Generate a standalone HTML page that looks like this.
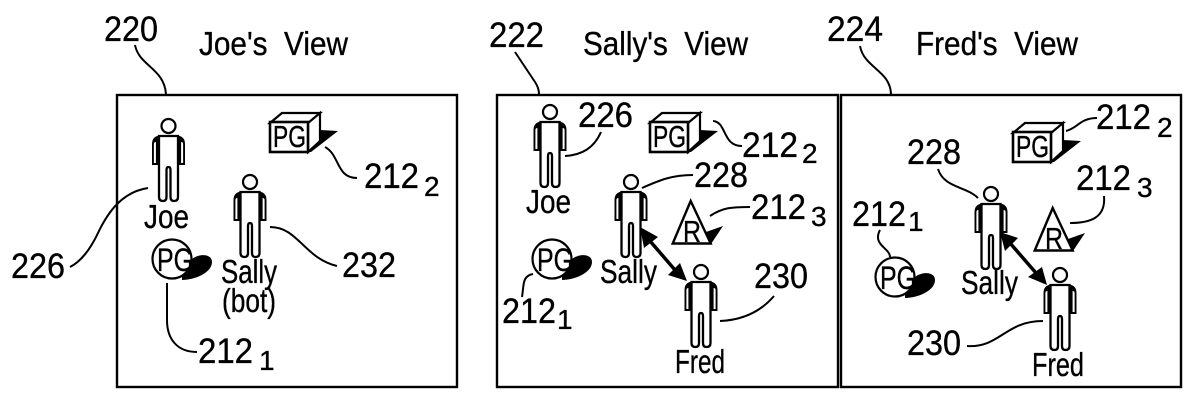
<!DOCTYPE html>
<html><head><meta charset="utf-8"><style>
html,body{margin:0;padding:0;background:#fff}
svg{display:block}
text{font-family:"Liberation Sans",sans-serif;fill:#000;stroke:#000;stroke-width:.35;white-space:pre}
.n{font-size:35px}.t{font-size:33px}.l{font-size:33px}.p{font-size:31px}.s{font-size:32px}.u{font-size:28px}
.w{fill:none;stroke:#000;stroke-width:2}
</style></head><body>
<svg width="1200" height="406" viewBox="0 0 1200 406" xmlns="http://www.w3.org/2000/svg">
<defs>
<g id="person">
<circle cx="0" cy="0" r="7" fill="#fff" stroke="#000" stroke-width="2.2"/>
<path d="M-9 9.5 Q-16.5 10.5 -16.5 18 V39 H-9Z M9 9.5 Q16.5 10.5 16.5 18 V39 H9Z" fill="#000"/>
<path d="M-14.6 18 V37 H-12.6 V16 Q-14.6 16 -14.6 18Z M14.6 18 V37 H12.6 V16 Q14.6 16 14.6 18Z" fill="#fff"/>
<path d="M-9.5 10 H9.5 V71 Q9.5 75 5.5 75 Q2 75 2 71 V44 Q2 41 0 41 Q-2 41 -2 44 V71 Q-2 75 -5.5 75 Q-9.5 75 -9.5 71Z" fill="#fff" stroke="#000" stroke-width="2.3"/>
</g>
<g id="box">
<path d="M51 18 L69 19 L42 40 H36 V18Z" fill="#000"/>
<path d="M1 11 L13 1 H51 L39 11Z M39 11 L51 1 V29 L39 40Z" fill="#fff" stroke="#000" stroke-width="2.2"/>
<rect x="1" y="10" width="38" height="30" fill="#fff" stroke="#000" stroke-width="2.6"/>
<text x="4" y="35" class="p" textLength="33" lengthAdjust="spacingAndGlyphs">PG</text>
</g>
<g id="ball">
<path d="M30 41 C42 41 60 34 60 23 C60 15 48 14 40 20 L30 30Z" fill="#000"/>
<circle cx="20" cy="20" r="19.5" fill="#fff" stroke="#000" stroke-width="2.2"/>
<text x="5" y="32" class="s" textLength="36" lengthAdjust="spacingAndGlyphs">PG</text>
</g>
<g id="tri">
<path d="M34 32 L51 26 L39 44 L31 44Z" fill="#000"/>
<path d="M18.7 1 L38.7 43.5 H0.7Z" fill="#fff" stroke="#000" stroke-width="2.4"/>
<text x="11" y="42" font-size="31" textLength="18" lengthAdjust="spacingAndGlyphs">R</text>
</g>
</defs>
<rect width="1200" height="406" fill="#fff"/>

<rect x="117" y="95" width="340" height="292" fill="none" stroke="#000" stroke-width="2.4"/>
<rect x="497" y="95" width="341" height="292" fill="none" stroke="#000" stroke-width="2.4"/>
<rect x="841" y="95" width="340" height="292" fill="none" stroke="#000" stroke-width="2.4"/>

<text x="104" y="41" class="n" textLength="54" lengthAdjust="spacingAndGlyphs">220</text>
<text x="199" y="55" class="t" textLength="149" lengthAdjust="spacingAndGlyphs">Joe's  View</text>
<text x="489" y="47" class="n" textLength="55" lengthAdjust="spacingAndGlyphs">222</text>
<text x="583" y="55" class="t" textLength="165" lengthAdjust="spacingAndGlyphs">Sally's  View</text>
<text x="827" y="41" class="n" textLength="56" lengthAdjust="spacingAndGlyphs">224</text>
<text x="916" y="55" class="t" textLength="162" lengthAdjust="spacingAndGlyphs">Fred's  View</text>

<path class="w" d="M135 45 C139 66 164 68 166 94"/>
<path class="w" d="M515 52 L535 82 Q539 88 539 94"/>
<path class="w" d="M860 46 C864 68 890 70 891 94"/>

<!-- Joe's view -->
<use href="#person" x="168.5" y="126"/>
<use href="#person" x="250" y="182"/>
<text x="144" y="228" class="l" textLength="45" lengthAdjust="spacingAndGlyphs">Joe</text>
<text x="221" y="283" class="l" textLength="56" lengthAdjust="spacingAndGlyphs">Sally</text>
<text x="222" y="312" class="l" textLength="54" lengthAdjust="spacingAndGlyphs">(bot)</text>
<use href="#box" x="269" y="112"/>
<use href="#ball" x="152" y="239"/>
<path class="w" d="M148 188 C122 192 108 212 98 233 C90 250 80 262 70 267"/>
<path class="w" d="M270 227 C298 227 304 258 337 266"/>
<path class="w" d="M325 147 C340 155 336 178 357 178"/>
<path class="w" d="M167 283 V320 C167 340 178 352 197 352"/>
<text x="11" y="278" class="n" textLength="54" lengthAdjust="spacingAndGlyphs">226</text>
<text x="342" y="277" class="n" textLength="54" lengthAdjust="spacingAndGlyphs">232</text>
<text x="364" y="188" class="n" textLength="55" lengthAdjust="spacingAndGlyphs">212</text>
<text x="424" y="196" class="u">2</text>
<text x="198" y="363" class="n" textLength="55" lengthAdjust="spacingAndGlyphs">212</text>
<text x="259" y="370" class="u">1</text>

<!-- Sally's view -->
<use href="#person" x="550" y="112"/>
<use href="#person" x="631" y="182"/>
<use href="#person" x="701" y="272"/>
<text x="526" y="213" class="l" textLength="45" lengthAdjust="spacingAndGlyphs">Joe</text>
<text x="600" y="283" class="l" textLength="57" lengthAdjust="spacingAndGlyphs">Sally</text>
<text x="675" y="373" class="l" textLength="50" lengthAdjust="spacingAndGlyphs">Fred</text>
<use href="#box" x="649" y="112"/>
<use href="#tri" x="672" y="200"/>
<use href="#ball" x="532" y="239"/>
<path d="M640 227 L658 237 L644 248Z M687 281 L668 275 L680 263Z" fill="#000"/>
<path d="M650 241 L675 270" stroke="#000" stroke-width="3.5" fill="none"/>
<path class="w" d="M565 156 C582 155 594 148 601 132"/>
<path class="w" d="M642 188 C660 180 672 175 693 175"/>
<path class="w" d="M710 216 C722 208 730 207 750 207"/>
<path class="w" d="M713 121 C727 122 722 146 742 146"/>
<path class="w" d="M533 274 C522 276 524 285 522 297"/>
<path class="w" d="M720 321 C745 320 762 310 774 296"/>
<text x="578" y="127" class="n" textLength="55" lengthAdjust="spacingAndGlyphs">226</text>
<text x="694" y="187" class="n" textLength="54" lengthAdjust="spacingAndGlyphs">228</text>
<text x="742" y="157" class="n" textLength="56" lengthAdjust="spacingAndGlyphs">212</text>
<text x="802" y="163" class="u">2</text>
<text x="751" y="219" class="n" textLength="55" lengthAdjust="spacingAndGlyphs">212</text>
<text x="811" y="226" class="u">3</text>
<text x="502" y="323" class="n" textLength="54" lengthAdjust="spacingAndGlyphs">212</text>
<text x="557" y="329" class="u">1</text>
<text x="754" y="288" class="n" textLength="54" lengthAdjust="spacingAndGlyphs">230</text>

<!-- Fred's view -->
<use href="#person" x="991" y="194"/>
<use href="#person" x="1060" y="275"/>
<text x="961" y="294" class="l" textLength="57" lengthAdjust="spacingAndGlyphs">Sally</text>
<text x="1032" y="376" class="l" textLength="52" lengthAdjust="spacingAndGlyphs">Fred</text>
<use href="#box" x="1012" y="122"/>
<use href="#tri" x="1034" y="207"/>
<use href="#ball" x="875" y="257"/>
<path d="M1000 232 L1018 238 L1005 251Z M1047 285 L1028 277 L1042 267Z" fill="#000"/>
<path d="M1010 243 L1036 273" stroke="#000" stroke-width="3.5" fill="none"/>
<path class="w" d="M1066 131 C1078 128 1080 118 1097 118"/>
<path class="w" d="M1070 223 C1090 223 1106 218 1104 196"/>
<path class="w" d="M938 169 C944 188 966 186 978 198"/>
<path class="w" d="M880 230 C872 245 890 248 890 257"/>
<path class="w" d="M967 346 C1000 348 1005 321 1043 321"/>
<text x="1096" y="129" class="n" textLength="55" lengthAdjust="spacingAndGlyphs">212</text>
<text x="1157" y="137" class="u">2</text>
<text x="1076" y="190" class="n" textLength="55" lengthAdjust="spacingAndGlyphs">212</text>
<text x="1137" y="197" class="u">3</text>
<text x="907" y="164" class="n" textLength="54" lengthAdjust="spacingAndGlyphs">228</text>
<text x="852" y="226" class="n" textLength="54" lengthAdjust="spacingAndGlyphs">212</text>
<text x="908" y="231" class="u">1</text>
<text x="907" y="355" class="n" textLength="54" lengthAdjust="spacingAndGlyphs">230</text>
</svg>
</body></html>
